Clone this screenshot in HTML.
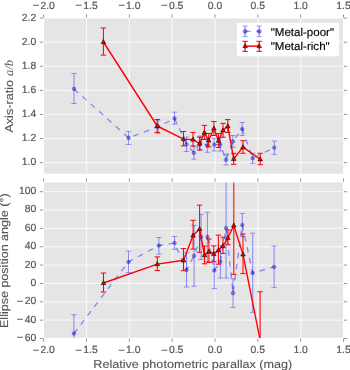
<!DOCTYPE html>
<html><head><meta charset="utf-8"><style>
html,body{margin:0;padding:0;background:#fff;width:350px;height:370px;overflow:hidden;}
svg{display:block;will-change:transform;} text{text-rendering:geometricPrecision;}
</style></head><body>
<svg width="350" height="370" viewBox="0 0 350 370">
<defs>
<clipPath id="ct"><rect x="44" y="18.5" width="299" height="155.2"/></clipPath>
<clipPath id="cb"><rect x="44" y="182.5" width="299" height="155.3"/></clipPath>
</defs>
<rect width="350" height="370" fill="#fff"/>
<rect x="44" y="18.5" width="299" height="155.2" fill="#E5E5E5"/>
<rect x="44" y="182.5" width="299" height="155.3" fill="#E5E5E5"/>
<line x1="86.51" y1="18.5" x2="86.51" y2="173.7" stroke="#fff" stroke-opacity="0.65" stroke-width="1.3"/>
<line x1="129.34" y1="18.5" x2="129.34" y2="173.7" stroke="#fff" stroke-opacity="0.65" stroke-width="1.3"/>
<line x1="172.17" y1="18.5" x2="172.17" y2="173.7" stroke="#fff" stroke-opacity="0.65" stroke-width="1.3"/>
<line x1="215" y1="18.5" x2="215" y2="173.7" stroke="#fff" stroke-opacity="0.65" stroke-width="1.3"/>
<line x1="257.83" y1="18.5" x2="257.83" y2="173.7" stroke="#fff" stroke-opacity="0.65" stroke-width="1.3"/>
<line x1="300.66" y1="18.5" x2="300.66" y2="173.7" stroke="#fff" stroke-opacity="0.65" stroke-width="1.3"/>
<line x1="86.51" y1="182.5" x2="86.51" y2="337.8" stroke="#fff" stroke-opacity="0.65" stroke-width="1.3"/>
<line x1="129.34" y1="182.5" x2="129.34" y2="337.8" stroke="#fff" stroke-opacity="0.65" stroke-width="1.3"/>
<line x1="172.17" y1="182.5" x2="172.17" y2="337.8" stroke="#fff" stroke-opacity="0.65" stroke-width="1.3"/>
<line x1="215" y1="182.5" x2="215" y2="337.8" stroke="#fff" stroke-opacity="0.65" stroke-width="1.3"/>
<line x1="257.83" y1="182.5" x2="257.83" y2="337.8" stroke="#fff" stroke-opacity="0.65" stroke-width="1.3"/>
<line x1="300.66" y1="182.5" x2="300.66" y2="337.8" stroke="#fff" stroke-opacity="0.65" stroke-width="1.3"/>
<line x1="44" y1="162.6" x2="343" y2="162.6" stroke="#fff" stroke-opacity="0.65" stroke-width="1.3"/>
<line x1="44" y1="138.52" x2="343" y2="138.52" stroke="#fff" stroke-opacity="0.65" stroke-width="1.3"/>
<line x1="44" y1="114.44" x2="343" y2="114.44" stroke="#fff" stroke-opacity="0.65" stroke-width="1.3"/>
<line x1="44" y1="90.36" x2="343" y2="90.36" stroke="#fff" stroke-opacity="0.65" stroke-width="1.3"/>
<line x1="44" y1="66.28" x2="343" y2="66.28" stroke="#fff" stroke-opacity="0.65" stroke-width="1.3"/>
<line x1="44" y1="42.2" x2="343" y2="42.2" stroke="#fff" stroke-opacity="0.65" stroke-width="1.3"/>
<line x1="44" y1="320.15" x2="343" y2="320.15" stroke="#fff" stroke-opacity="0.65" stroke-width="1.3"/>
<line x1="44" y1="301.8" x2="343" y2="301.8" stroke="#fff" stroke-opacity="0.65" stroke-width="1.3"/>
<line x1="44" y1="283.45" x2="343" y2="283.45" stroke="#fff" stroke-opacity="0.65" stroke-width="1.3"/>
<line x1="44" y1="265.1" x2="343" y2="265.1" stroke="#fff" stroke-opacity="0.65" stroke-width="1.3"/>
<line x1="44" y1="246.75" x2="343" y2="246.75" stroke="#fff" stroke-opacity="0.65" stroke-width="1.3"/>
<line x1="44" y1="228.41" x2="343" y2="228.41" stroke="#fff" stroke-opacity="0.65" stroke-width="1.3"/>
<line x1="44" y1="210.06" x2="343" y2="210.06" stroke="#fff" stroke-opacity="0.65" stroke-width="1.3"/>
<line x1="44" y1="191.71" x2="343" y2="191.71" stroke="#fff" stroke-opacity="0.65" stroke-width="1.3"/>
<g stroke="#6a6a6a" stroke-width="0.7">
<line x1="43.68" y1="17.7" x2="43.68" y2="14.4"/>
<line x1="43.68" y1="181.7" x2="43.68" y2="178.4"/>
<line x1="43.68" y1="338.6" x2="43.68" y2="341.9"/>
<line x1="86.51" y1="17.7" x2="86.51" y2="14.4"/>
<line x1="86.51" y1="181.7" x2="86.51" y2="178.4"/>
<line x1="86.51" y1="338.6" x2="86.51" y2="341.9"/>
<line x1="129.34" y1="17.7" x2="129.34" y2="14.4"/>
<line x1="129.34" y1="181.7" x2="129.34" y2="178.4"/>
<line x1="129.34" y1="338.6" x2="129.34" y2="341.9"/>
<line x1="172.17" y1="17.7" x2="172.17" y2="14.4"/>
<line x1="172.17" y1="181.7" x2="172.17" y2="178.4"/>
<line x1="172.17" y1="338.6" x2="172.17" y2="341.9"/>
<line x1="215" y1="17.7" x2="215" y2="14.4"/>
<line x1="215" y1="181.7" x2="215" y2="178.4"/>
<line x1="215" y1="338.6" x2="215" y2="341.9"/>
<line x1="257.83" y1="17.7" x2="257.83" y2="14.4"/>
<line x1="257.83" y1="181.7" x2="257.83" y2="178.4"/>
<line x1="257.83" y1="338.6" x2="257.83" y2="341.9"/>
<line x1="300.66" y1="17.7" x2="300.66" y2="14.4"/>
<line x1="300.66" y1="181.7" x2="300.66" y2="178.4"/>
<line x1="300.66" y1="338.6" x2="300.66" y2="341.9"/>
<line x1="343.49" y1="17.7" x2="343.49" y2="14.4"/>
<line x1="343.49" y1="181.7" x2="343.49" y2="178.4"/>
<line x1="343.49" y1="338.6" x2="343.49" y2="341.9"/>
<line x1="43.2" y1="162.6" x2="39.9" y2="162.6"/>
<line x1="343.8" y1="162.6" x2="347.1" y2="162.6"/>
<line x1="43.2" y1="138.52" x2="39.9" y2="138.52"/>
<line x1="343.8" y1="138.52" x2="347.1" y2="138.52"/>
<line x1="43.2" y1="114.44" x2="39.9" y2="114.44"/>
<line x1="343.8" y1="114.44" x2="347.1" y2="114.44"/>
<line x1="43.2" y1="90.36" x2="39.9" y2="90.36"/>
<line x1="343.8" y1="90.36" x2="347.1" y2="90.36"/>
<line x1="43.2" y1="66.28" x2="39.9" y2="66.28"/>
<line x1="343.8" y1="66.28" x2="347.1" y2="66.28"/>
<line x1="43.2" y1="42.2" x2="39.9" y2="42.2"/>
<line x1="343.8" y1="42.2" x2="347.1" y2="42.2"/>
<line x1="43.2" y1="18.12" x2="39.9" y2="18.12"/>
<line x1="343.8" y1="18.12" x2="347.1" y2="18.12"/>
<line x1="43.2" y1="338.49" x2="39.9" y2="338.49"/>
<line x1="343.8" y1="338.49" x2="347.1" y2="338.49"/>
<line x1="43.2" y1="320.15" x2="39.9" y2="320.15"/>
<line x1="343.8" y1="320.15" x2="347.1" y2="320.15"/>
<line x1="43.2" y1="301.8" x2="39.9" y2="301.8"/>
<line x1="343.8" y1="301.8" x2="347.1" y2="301.8"/>
<line x1="43.2" y1="283.45" x2="39.9" y2="283.45"/>
<line x1="343.8" y1="283.45" x2="347.1" y2="283.45"/>
<line x1="43.2" y1="265.1" x2="39.9" y2="265.1"/>
<line x1="343.8" y1="265.1" x2="347.1" y2="265.1"/>
<line x1="43.2" y1="246.75" x2="39.9" y2="246.75"/>
<line x1="343.8" y1="246.75" x2="347.1" y2="246.75"/>
<line x1="43.2" y1="228.41" x2="39.9" y2="228.41"/>
<line x1="343.8" y1="228.41" x2="347.1" y2="228.41"/>
<line x1="43.2" y1="210.06" x2="39.9" y2="210.06"/>
<line x1="343.8" y1="210.06" x2="347.1" y2="210.06"/>
<line x1="43.2" y1="191.71" x2="39.9" y2="191.71"/>
<line x1="343.8" y1="191.71" x2="347.1" y2="191.71"/>
</g>
<g font-family="Liberation Sans, sans-serif" font-size="10.4" fill="#555555" stroke="#555555" stroke-width="0.18">
<text x="43.68" y="8.9" text-anchor="middle"><tspan font-size="11.5" stroke-width="0.15" dy="0.5">−</tspan><tspan dx="1.2" dy="-0.5">2.0</tspan></text>
<text x="43.68" y="353.0" text-anchor="middle"><tspan font-size="11.5" stroke-width="0.15" dy="0.5">−</tspan><tspan dx="1.2" dy="-0.5">2.0</tspan></text>
<text x="86.51" y="8.9" text-anchor="middle"><tspan font-size="11.5" stroke-width="0.15" dy="0.5">−</tspan><tspan dx="1.2" dy="-0.5">1.5</tspan></text>
<text x="86.51" y="353.0" text-anchor="middle"><tspan font-size="11.5" stroke-width="0.15" dy="0.5">−</tspan><tspan dx="1.2" dy="-0.5">1.5</tspan></text>
<text x="129.34" y="8.9" text-anchor="middle"><tspan font-size="11.5" stroke-width="0.15" dy="0.5">−</tspan><tspan dx="1.2" dy="-0.5">1.0</tspan></text>
<text x="129.34" y="353.0" text-anchor="middle"><tspan font-size="11.5" stroke-width="0.15" dy="0.5">−</tspan><tspan dx="1.2" dy="-0.5">1.0</tspan></text>
<text x="172.17" y="8.9" text-anchor="middle"><tspan font-size="11.5" stroke-width="0.15" dy="0.5">−</tspan><tspan dx="1.2" dy="-0.5">0.5</tspan></text>
<text x="172.17" y="353.0" text-anchor="middle"><tspan font-size="11.5" stroke-width="0.15" dy="0.5">−</tspan><tspan dx="1.2" dy="-0.5">0.5</tspan></text>
<text x="215" y="8.9" text-anchor="middle">0.0</text>
<text x="215" y="353.0" text-anchor="middle">0.0</text>
<text x="257.83" y="8.9" text-anchor="middle">0.5</text>
<text x="257.83" y="353.0" text-anchor="middle">0.5</text>
<text x="300.66" y="8.9" text-anchor="middle">1.0</text>
<text x="300.66" y="353.0" text-anchor="middle">1.0</text>
<text x="343.49" y="8.9" text-anchor="middle">1.5</text>
<text x="343.49" y="353.0" text-anchor="middle">1.5</text>
<text x="36.3" y="165.3" text-anchor="end">1.0</text>
<text x="36.3" y="141.22" text-anchor="end">1.2</text>
<text x="36.3" y="117.14" text-anchor="end">1.4</text>
<text x="36.3" y="93.06" text-anchor="end">1.6</text>
<text x="36.3" y="68.98" text-anchor="end">1.8</text>
<text x="36.3" y="44.9" text-anchor="end">2.0</text>
<text x="36.3" y="20.82" text-anchor="end">2.2</text>
<text x="36.3" y="340.89" text-anchor="end"><tspan font-size="11.5" stroke-width="0.15" dy="0.5">−</tspan><tspan dx="1.2" dy="-0.5">60</tspan></text>
<text x="36.3" y="322.55" text-anchor="end"><tspan font-size="11.5" stroke-width="0.15" dy="0.5">−</tspan><tspan dx="1.2" dy="-0.5">40</tspan></text>
<text x="36.3" y="304.2" text-anchor="end"><tspan font-size="11.5" stroke-width="0.15" dy="0.5">−</tspan><tspan dx="1.2" dy="-0.5">20</tspan></text>
<text x="36.3" y="285.85" text-anchor="end">0</text>
<text x="36.3" y="267.5" text-anchor="end">20</text>
<text x="36.3" y="249.15" text-anchor="end">40</text>
<text x="36.3" y="230.81" text-anchor="end">60</text>
<text x="36.3" y="212.46" text-anchor="end">80</text>
<text x="36.3" y="194.11" text-anchor="end">100</text>
</g>
<g clip-path="url(#ct)">
<polyline points="74.05,88.9 128.6,137.9 158.1,126.7 174.5,118.4 186.5,144.3 193.9,152.8 200.3,143 207.3,145.4 214.2,144.6 220.2,144.4 226,159.8 232.9,141.4 242.2,129 252.7,158.2 274.3,147.6" fill="none" stroke="rgba(0,0,255,0.42)" stroke-width="1.3" stroke-dasharray="5.6 5.6"/>
<line x1="74.05" y1="73.5" x2="74.05" y2="103.5" stroke="rgba(0,0,255,0.42)" stroke-width="1.0"/>
<line x1="71.35" y1="73.5" x2="76.75" y2="73.5" stroke="rgba(0,0,255,0.42)" stroke-width="0.85"/>
<line x1="71.35" y1="103.5" x2="76.75" y2="103.5" stroke="rgba(0,0,255,0.42)" stroke-width="0.85"/>
<line x1="128.6" y1="131.6" x2="128.6" y2="144.5" stroke="rgba(0,0,255,0.42)" stroke-width="1.0"/>
<line x1="125.9" y1="131.6" x2="131.3" y2="131.6" stroke="rgba(0,0,255,0.42)" stroke-width="0.85"/>
<line x1="125.9" y1="144.5" x2="131.3" y2="144.5" stroke="rgba(0,0,255,0.42)" stroke-width="0.85"/>
<line x1="158.1" y1="120.1" x2="158.1" y2="133.3" stroke="rgba(0,0,255,0.42)" stroke-width="1.0"/>
<line x1="155.4" y1="120.1" x2="160.8" y2="120.1" stroke="rgba(0,0,255,0.42)" stroke-width="0.85"/>
<line x1="155.4" y1="133.3" x2="160.8" y2="133.3" stroke="rgba(0,0,255,0.42)" stroke-width="0.85"/>
<line x1="174.5" y1="112.1" x2="174.5" y2="124.2" stroke="rgba(0,0,255,0.42)" stroke-width="1.0"/>
<line x1="171.8" y1="112.1" x2="177.2" y2="112.1" stroke="rgba(0,0,255,0.42)" stroke-width="0.85"/>
<line x1="171.8" y1="124.2" x2="177.2" y2="124.2" stroke="rgba(0,0,255,0.42)" stroke-width="0.85"/>
<line x1="186.5" y1="137" x2="186.5" y2="151.5" stroke="rgba(0,0,255,0.42)" stroke-width="1.0"/>
<line x1="183.8" y1="137" x2="189.2" y2="137" stroke="rgba(0,0,255,0.42)" stroke-width="0.85"/>
<line x1="183.8" y1="151.5" x2="189.2" y2="151.5" stroke="rgba(0,0,255,0.42)" stroke-width="0.85"/>
<line x1="193.9" y1="146.5" x2="193.9" y2="159.2" stroke="rgba(0,0,255,0.42)" stroke-width="1.0"/>
<line x1="191.2" y1="146.5" x2="196.6" y2="146.5" stroke="rgba(0,0,255,0.42)" stroke-width="0.85"/>
<line x1="191.2" y1="159.2" x2="196.6" y2="159.2" stroke="rgba(0,0,255,0.42)" stroke-width="0.85"/>
<line x1="200.3" y1="136" x2="200.3" y2="150" stroke="rgba(0,0,255,0.42)" stroke-width="1.0"/>
<line x1="197.6" y1="136" x2="203" y2="136" stroke="rgba(0,0,255,0.42)" stroke-width="0.85"/>
<line x1="197.6" y1="150" x2="203" y2="150" stroke="rgba(0,0,255,0.42)" stroke-width="0.85"/>
<line x1="207.3" y1="138.5" x2="207.3" y2="152.3" stroke="rgba(0,0,255,0.42)" stroke-width="1.0"/>
<line x1="204.6" y1="138.5" x2="210" y2="138.5" stroke="rgba(0,0,255,0.42)" stroke-width="0.85"/>
<line x1="204.6" y1="152.3" x2="210" y2="152.3" stroke="rgba(0,0,255,0.42)" stroke-width="0.85"/>
<line x1="214.2" y1="138.4" x2="214.2" y2="151" stroke="rgba(0,0,255,0.42)" stroke-width="1.0"/>
<line x1="211.5" y1="138.4" x2="216.9" y2="138.4" stroke="rgba(0,0,255,0.42)" stroke-width="0.85"/>
<line x1="211.5" y1="151" x2="216.9" y2="151" stroke="rgba(0,0,255,0.42)" stroke-width="0.85"/>
<line x1="220.2" y1="138" x2="220.2" y2="151" stroke="rgba(0,0,255,0.42)" stroke-width="1.0"/>
<line x1="217.5" y1="138" x2="222.9" y2="138" stroke="rgba(0,0,255,0.42)" stroke-width="0.85"/>
<line x1="217.5" y1="151" x2="222.9" y2="151" stroke="rgba(0,0,255,0.42)" stroke-width="0.85"/>
<line x1="226" y1="154.2" x2="226" y2="165" stroke="rgba(0,0,255,0.42)" stroke-width="1.0"/>
<line x1="223.3" y1="154.2" x2="228.7" y2="154.2" stroke="rgba(0,0,255,0.42)" stroke-width="0.85"/>
<line x1="223.3" y1="165" x2="228.7" y2="165" stroke="rgba(0,0,255,0.42)" stroke-width="0.85"/>
<line x1="232.9" y1="135.5" x2="232.9" y2="147.3" stroke="rgba(0,0,255,0.42)" stroke-width="1.0"/>
<line x1="230.2" y1="135.5" x2="235.6" y2="135.5" stroke="rgba(0,0,255,0.42)" stroke-width="0.85"/>
<line x1="230.2" y1="147.3" x2="235.6" y2="147.3" stroke="rgba(0,0,255,0.42)" stroke-width="0.85"/>
<line x1="242.2" y1="122.5" x2="242.2" y2="135.5" stroke="rgba(0,0,255,0.42)" stroke-width="1.0"/>
<line x1="239.5" y1="122.5" x2="244.9" y2="122.5" stroke="rgba(0,0,255,0.42)" stroke-width="0.85"/>
<line x1="239.5" y1="135.5" x2="244.9" y2="135.5" stroke="rgba(0,0,255,0.42)" stroke-width="0.85"/>
<line x1="252.7" y1="153.3" x2="252.7" y2="163.3" stroke="rgba(0,0,255,0.42)" stroke-width="1.0"/>
<line x1="250" y1="153.3" x2="255.4" y2="153.3" stroke="rgba(0,0,255,0.42)" stroke-width="0.85"/>
<line x1="250" y1="163.3" x2="255.4" y2="163.3" stroke="rgba(0,0,255,0.42)" stroke-width="0.85"/>
<line x1="274.3" y1="141" x2="274.3" y2="154.3" stroke="rgba(0,0,255,0.42)" stroke-width="1.0"/>
<line x1="271.6" y1="141" x2="277" y2="141" stroke="rgba(0,0,255,0.42)" stroke-width="0.85"/>
<line x1="271.6" y1="154.3" x2="277" y2="154.3" stroke="rgba(0,0,255,0.42)" stroke-width="0.85"/>
<circle cx="74.05" cy="88.9" r="1.85" fill="rgba(0,0,255,0.42)" stroke="rgba(0,0,40,0.45)" stroke-width="0.55"/>
<circle cx="128.6" cy="137.9" r="1.85" fill="rgba(0,0,255,0.42)" stroke="rgba(0,0,40,0.45)" stroke-width="0.55"/>
<circle cx="158.1" cy="126.7" r="1.85" fill="rgba(0,0,255,0.42)" stroke="rgba(0,0,40,0.45)" stroke-width="0.55"/>
<circle cx="174.5" cy="118.4" r="1.85" fill="rgba(0,0,255,0.42)" stroke="rgba(0,0,40,0.45)" stroke-width="0.55"/>
<circle cx="186.5" cy="144.3" r="1.85" fill="rgba(0,0,255,0.42)" stroke="rgba(0,0,40,0.45)" stroke-width="0.55"/>
<circle cx="193.9" cy="152.8" r="1.85" fill="rgba(0,0,255,0.42)" stroke="rgba(0,0,40,0.45)" stroke-width="0.55"/>
<circle cx="200.3" cy="143" r="1.85" fill="rgba(0,0,255,0.42)" stroke="rgba(0,0,40,0.45)" stroke-width="0.55"/>
<circle cx="207.3" cy="145.4" r="1.85" fill="rgba(0,0,255,0.42)" stroke="rgba(0,0,40,0.45)" stroke-width="0.55"/>
<circle cx="214.2" cy="144.6" r="1.85" fill="rgba(0,0,255,0.42)" stroke="rgba(0,0,40,0.45)" stroke-width="0.55"/>
<circle cx="220.2" cy="144.4" r="1.85" fill="rgba(0,0,255,0.42)" stroke="rgba(0,0,40,0.45)" stroke-width="0.55"/>
<circle cx="226" cy="159.8" r="1.85" fill="rgba(0,0,255,0.42)" stroke="rgba(0,0,40,0.45)" stroke-width="0.55"/>
<circle cx="232.9" cy="141.4" r="1.85" fill="rgba(0,0,255,0.42)" stroke="rgba(0,0,40,0.45)" stroke-width="0.55"/>
<circle cx="242.2" cy="129" r="1.85" fill="rgba(0,0,255,0.42)" stroke="rgba(0,0,40,0.45)" stroke-width="0.55"/>
<circle cx="252.7" cy="158.2" r="1.85" fill="rgba(0,0,255,0.42)" stroke="rgba(0,0,40,0.45)" stroke-width="0.55"/>
<circle cx="274.3" cy="147.6" r="1.85" fill="rgba(0,0,255,0.42)" stroke="rgba(0,0,40,0.45)" stroke-width="0.55"/>
</g>
<g clip-path="url(#ct)">
<polyline points="103.4,42 157.2,126 183.5,139.1 193,139.5 199.6,143.7 204.4,132.6 208.7,140.5 213.9,128.5 218.5,140.7 223,130.3 227.8,126.2 233.7,159 243,147.1 260.2,159.3" fill="none" stroke="#FF0000" stroke-width="1.4" stroke-linejoin="round"/>
<line x1="103.4" y1="28" x2="103.4" y2="55.1" stroke="#FF0000" stroke-width="1.05"/>
<line x1="100.7" y1="28" x2="106.1" y2="28" stroke="#FF0000" stroke-width="1.0"/>
<line x1="100.7" y1="55.1" x2="106.1" y2="55.1" stroke="#FF0000" stroke-width="1.0"/>
<line x1="157.2" y1="119.5" x2="157.2" y2="132.4" stroke="#FF0000" stroke-width="1.05"/>
<line x1="154.5" y1="119.5" x2="159.9" y2="119.5" stroke="#FF0000" stroke-width="1.0"/>
<line x1="154.5" y1="132.4" x2="159.9" y2="132.4" stroke="#FF0000" stroke-width="1.0"/>
<line x1="183.5" y1="131.5" x2="183.5" y2="145.9" stroke="#FF0000" stroke-width="1.05"/>
<line x1="180.8" y1="131.5" x2="186.2" y2="131.5" stroke="#FF0000" stroke-width="1.0"/>
<line x1="180.8" y1="145.9" x2="186.2" y2="145.9" stroke="#FF0000" stroke-width="1.0"/>
<line x1="193" y1="132.4" x2="193" y2="146" stroke="#FF0000" stroke-width="1.05"/>
<line x1="190.3" y1="132.4" x2="195.7" y2="132.4" stroke="#FF0000" stroke-width="1.0"/>
<line x1="190.3" y1="146" x2="195.7" y2="146" stroke="#FF0000" stroke-width="1.0"/>
<line x1="199.6" y1="137.1" x2="199.6" y2="150" stroke="#FF0000" stroke-width="1.05"/>
<line x1="196.9" y1="137.1" x2="202.3" y2="137.1" stroke="#FF0000" stroke-width="1.0"/>
<line x1="196.9" y1="150" x2="202.3" y2="150" stroke="#FF0000" stroke-width="1.0"/>
<line x1="204.4" y1="125.4" x2="204.4" y2="139.5" stroke="#FF0000" stroke-width="1.05"/>
<line x1="201.7" y1="125.4" x2="207.1" y2="125.4" stroke="#FF0000" stroke-width="1.0"/>
<line x1="201.7" y1="139.5" x2="207.1" y2="139.5" stroke="#FF0000" stroke-width="1.0"/>
<line x1="208.7" y1="133.5" x2="208.7" y2="147" stroke="#FF0000" stroke-width="1.05"/>
<line x1="206" y1="133.5" x2="211.4" y2="133.5" stroke="#FF0000" stroke-width="1.0"/>
<line x1="206" y1="147" x2="211.4" y2="147" stroke="#FF0000" stroke-width="1.0"/>
<line x1="213.9" y1="121.5" x2="213.9" y2="135.5" stroke="#FF0000" stroke-width="1.05"/>
<line x1="211.2" y1="121.5" x2="216.6" y2="121.5" stroke="#FF0000" stroke-width="1.0"/>
<line x1="211.2" y1="135.5" x2="216.6" y2="135.5" stroke="#FF0000" stroke-width="1.0"/>
<line x1="218.5" y1="133.5" x2="218.5" y2="147.5" stroke="#FF0000" stroke-width="1.05"/>
<line x1="215.8" y1="133.5" x2="221.2" y2="133.5" stroke="#FF0000" stroke-width="1.0"/>
<line x1="215.8" y1="147.5" x2="221.2" y2="147.5" stroke="#FF0000" stroke-width="1.0"/>
<line x1="223" y1="123.3" x2="223" y2="137.2" stroke="#FF0000" stroke-width="1.05"/>
<line x1="220.3" y1="123.3" x2="225.7" y2="123.3" stroke="#FF0000" stroke-width="1.0"/>
<line x1="220.3" y1="137.2" x2="225.7" y2="137.2" stroke="#FF0000" stroke-width="1.0"/>
<line x1="227.8" y1="119.6" x2="227.8" y2="132.5" stroke="#FF0000" stroke-width="1.05"/>
<line x1="225.1" y1="119.6" x2="230.5" y2="119.6" stroke="#FF0000" stroke-width="1.0"/>
<line x1="225.1" y1="132.5" x2="230.5" y2="132.5" stroke="#FF0000" stroke-width="1.0"/>
<line x1="233.7" y1="153.3" x2="233.7" y2="164.3" stroke="#FF0000" stroke-width="1.05"/>
<line x1="231" y1="153.3" x2="236.4" y2="153.3" stroke="#FF0000" stroke-width="1.0"/>
<line x1="231" y1="164.3" x2="236.4" y2="164.3" stroke="#FF0000" stroke-width="1.0"/>
<line x1="243" y1="140.7" x2="243" y2="153.3" stroke="#FF0000" stroke-width="1.05"/>
<line x1="240.3" y1="140.7" x2="245.7" y2="140.7" stroke="#FF0000" stroke-width="1.0"/>
<line x1="240.3" y1="153.3" x2="245.7" y2="153.3" stroke="#FF0000" stroke-width="1.0"/>
<line x1="260.2" y1="153.3" x2="260.2" y2="164.7" stroke="#FF0000" stroke-width="1.05"/>
<line x1="257.5" y1="153.3" x2="262.9" y2="153.3" stroke="#FF0000" stroke-width="1.0"/>
<line x1="257.5" y1="164.7" x2="262.9" y2="164.7" stroke="#FF0000" stroke-width="1.0"/>
<path d="M103.4,39.6 L105.7,43.6 L101.1,43.6 Z" fill="#F00000" stroke="#000" stroke-width="0.55"/>
<path d="M157.2,123.6 L159.5,127.6 L154.9,127.6 Z" fill="#F00000" stroke="#000" stroke-width="0.55"/>
<path d="M183.5,136.7 L185.8,140.7 L181.2,140.7 Z" fill="#F00000" stroke="#000" stroke-width="0.55"/>
<path d="M193,137.1 L195.3,141.1 L190.7,141.1 Z" fill="#F00000" stroke="#000" stroke-width="0.55"/>
<path d="M199.6,141.3 L201.9,145.3 L197.3,145.3 Z" fill="#F00000" stroke="#000" stroke-width="0.55"/>
<path d="M204.4,130.2 L206.7,134.2 L202.1,134.2 Z" fill="#F00000" stroke="#000" stroke-width="0.55"/>
<path d="M208.7,138.1 L211,142.1 L206.4,142.1 Z" fill="#F00000" stroke="#000" stroke-width="0.55"/>
<path d="M213.9,126.1 L216.2,130.1 L211.6,130.1 Z" fill="#F00000" stroke="#000" stroke-width="0.55"/>
<path d="M218.5,138.3 L220.8,142.3 L216.2,142.3 Z" fill="#F00000" stroke="#000" stroke-width="0.55"/>
<path d="M223,127.9 L225.3,131.9 L220.7,131.9 Z" fill="#F00000" stroke="#000" stroke-width="0.55"/>
<path d="M227.8,123.8 L230.1,127.8 L225.5,127.8 Z" fill="#F00000" stroke="#000" stroke-width="0.55"/>
<path d="M233.7,156.6 L236,160.6 L231.4,160.6 Z" fill="#F00000" stroke="#000" stroke-width="0.55"/>
<path d="M243,144.7 L245.3,148.7 L240.7,148.7 Z" fill="#F00000" stroke="#000" stroke-width="0.55"/>
<path d="M260.2,156.9 L262.5,160.9 L257.9,160.9 Z" fill="#F00000" stroke="#000" stroke-width="0.55"/>
</g>
<g clip-path="url(#cb)">
<polyline points="73.9,333.5 128.5,261.9 158.9,245.5 174.6,243 186.5,269.9 194.1,255.8 201.1,236.9 207.4,236.9 214.3,270.4 220.4,261.8 226.1,228 233,293.1 242.3,225 252.7,272.9 274.1,266.9" fill="none" stroke="rgba(0,0,255,0.42)" stroke-width="1.3" stroke-dasharray="5.6 5.6"/>
<line x1="73.9" y1="314.7" x2="73.9" y2="352" stroke="rgba(0,0,255,0.42)" stroke-width="1.0"/>
<line x1="71.2" y1="314.7" x2="76.6" y2="314.7" stroke="rgba(0,0,255,0.42)" stroke-width="0.85"/>
<line x1="71.2" y1="352" x2="76.6" y2="352" stroke="rgba(0,0,255,0.42)" stroke-width="0.85"/>
<line x1="128.5" y1="251" x2="128.5" y2="272.5" stroke="rgba(0,0,255,0.42)" stroke-width="1.0"/>
<line x1="125.8" y1="251" x2="131.2" y2="251" stroke="rgba(0,0,255,0.42)" stroke-width="0.85"/>
<line x1="125.8" y1="272.5" x2="131.2" y2="272.5" stroke="rgba(0,0,255,0.42)" stroke-width="0.85"/>
<line x1="158.9" y1="237.5" x2="158.9" y2="254.2" stroke="rgba(0,0,255,0.42)" stroke-width="1.0"/>
<line x1="156.2" y1="237.5" x2="161.6" y2="237.5" stroke="rgba(0,0,255,0.42)" stroke-width="0.85"/>
<line x1="156.2" y1="254.2" x2="161.6" y2="254.2" stroke="rgba(0,0,255,0.42)" stroke-width="0.85"/>
<line x1="174.6" y1="236.5" x2="174.6" y2="249.3" stroke="rgba(0,0,255,0.42)" stroke-width="1.0"/>
<line x1="171.9" y1="236.5" x2="177.3" y2="236.5" stroke="rgba(0,0,255,0.42)" stroke-width="0.85"/>
<line x1="171.9" y1="249.3" x2="177.3" y2="249.3" stroke="rgba(0,0,255,0.42)" stroke-width="0.85"/>
<line x1="186.5" y1="252.7" x2="186.5" y2="287" stroke="rgba(0,0,255,0.42)" stroke-width="1.0"/>
<line x1="183.8" y1="252.7" x2="189.2" y2="252.7" stroke="rgba(0,0,255,0.42)" stroke-width="0.85"/>
<line x1="183.8" y1="287" x2="189.2" y2="287" stroke="rgba(0,0,255,0.42)" stroke-width="0.85"/>
<line x1="194.1" y1="225.3" x2="194.1" y2="286.3" stroke="rgba(0,0,255,0.42)" stroke-width="1.0"/>
<line x1="191.4" y1="225.3" x2="196.8" y2="225.3" stroke="rgba(0,0,255,0.42)" stroke-width="0.85"/>
<line x1="191.4" y1="286.3" x2="196.8" y2="286.3" stroke="rgba(0,0,255,0.42)" stroke-width="0.85"/>
<line x1="201.1" y1="214.3" x2="201.1" y2="259.5" stroke="rgba(0,0,255,0.42)" stroke-width="1.0"/>
<line x1="198.4" y1="214.3" x2="203.8" y2="214.3" stroke="rgba(0,0,255,0.42)" stroke-width="0.85"/>
<line x1="198.4" y1="259.5" x2="203.8" y2="259.5" stroke="rgba(0,0,255,0.42)" stroke-width="0.85"/>
<line x1="207.4" y1="212.3" x2="207.4" y2="261.5" stroke="rgba(0,0,255,0.42)" stroke-width="1.0"/>
<line x1="204.7" y1="212.3" x2="210.1" y2="212.3" stroke="rgba(0,0,255,0.42)" stroke-width="0.85"/>
<line x1="204.7" y1="261.5" x2="210.1" y2="261.5" stroke="rgba(0,0,255,0.42)" stroke-width="0.85"/>
<line x1="214.3" y1="252.3" x2="214.3" y2="288.6" stroke="rgba(0,0,255,0.42)" stroke-width="1.0"/>
<line x1="211.6" y1="252.3" x2="217" y2="252.3" stroke="rgba(0,0,255,0.42)" stroke-width="0.85"/>
<line x1="211.6" y1="288.6" x2="217" y2="288.6" stroke="rgba(0,0,255,0.42)" stroke-width="0.85"/>
<line x1="220.4" y1="245.6" x2="220.4" y2="278.1" stroke="rgba(0,0,255,0.42)" stroke-width="1.0"/>
<line x1="217.7" y1="245.6" x2="223.1" y2="245.6" stroke="rgba(0,0,255,0.42)" stroke-width="0.85"/>
<line x1="217.7" y1="278.1" x2="223.1" y2="278.1" stroke="rgba(0,0,255,0.42)" stroke-width="0.85"/>
<line x1="226.1" y1="178" x2="226.1" y2="278.1" stroke="rgba(0,0,255,0.42)" stroke-width="1.0"/>
<line x1="223.4" y1="178" x2="228.8" y2="178" stroke="rgba(0,0,255,0.42)" stroke-width="0.85"/>
<line x1="223.4" y1="278.1" x2="228.8" y2="278.1" stroke="rgba(0,0,255,0.42)" stroke-width="0.85"/>
<line x1="233" y1="278.7" x2="233" y2="307.4" stroke="rgba(0,0,255,0.42)" stroke-width="1.0"/>
<line x1="230.3" y1="278.7" x2="235.7" y2="278.7" stroke="rgba(0,0,255,0.42)" stroke-width="0.85"/>
<line x1="230.3" y1="307.4" x2="235.7" y2="307.4" stroke="rgba(0,0,255,0.42)" stroke-width="0.85"/>
<line x1="242.3" y1="213.4" x2="242.3" y2="236.6" stroke="rgba(0,0,255,0.42)" stroke-width="1.0"/>
<line x1="239.6" y1="213.4" x2="245" y2="213.4" stroke="rgba(0,0,255,0.42)" stroke-width="0.85"/>
<line x1="239.6" y1="236.6" x2="245" y2="236.6" stroke="rgba(0,0,255,0.42)" stroke-width="0.85"/>
<line x1="252.7" y1="233.2" x2="252.7" y2="312.4" stroke="rgba(0,0,255,0.42)" stroke-width="1.0"/>
<line x1="250" y1="233.2" x2="255.4" y2="233.2" stroke="rgba(0,0,255,0.42)" stroke-width="0.85"/>
<line x1="250" y1="312.4" x2="255.4" y2="312.4" stroke="rgba(0,0,255,0.42)" stroke-width="0.85"/>
<line x1="274.1" y1="246" x2="274.1" y2="287.6" stroke="rgba(0,0,255,0.42)" stroke-width="1.0"/>
<line x1="271.4" y1="246" x2="276.8" y2="246" stroke="rgba(0,0,255,0.42)" stroke-width="0.85"/>
<line x1="271.4" y1="287.6" x2="276.8" y2="287.6" stroke="rgba(0,0,255,0.42)" stroke-width="0.85"/>
<circle cx="73.9" cy="333.5" r="1.85" fill="rgba(0,0,255,0.42)" stroke="rgba(0,0,40,0.45)" stroke-width="0.55"/>
<circle cx="128.5" cy="261.9" r="1.85" fill="rgba(0,0,255,0.42)" stroke="rgba(0,0,40,0.45)" stroke-width="0.55"/>
<circle cx="158.9" cy="245.5" r="1.85" fill="rgba(0,0,255,0.42)" stroke="rgba(0,0,40,0.45)" stroke-width="0.55"/>
<circle cx="174.6" cy="243" r="1.85" fill="rgba(0,0,255,0.42)" stroke="rgba(0,0,40,0.45)" stroke-width="0.55"/>
<circle cx="186.5" cy="269.9" r="1.85" fill="rgba(0,0,255,0.42)" stroke="rgba(0,0,40,0.45)" stroke-width="0.55"/>
<circle cx="194.1" cy="255.8" r="1.85" fill="rgba(0,0,255,0.42)" stroke="rgba(0,0,40,0.45)" stroke-width="0.55"/>
<circle cx="201.1" cy="236.9" r="1.85" fill="rgba(0,0,255,0.42)" stroke="rgba(0,0,40,0.45)" stroke-width="0.55"/>
<circle cx="207.4" cy="236.9" r="1.85" fill="rgba(0,0,255,0.42)" stroke="rgba(0,0,40,0.45)" stroke-width="0.55"/>
<circle cx="214.3" cy="270.4" r="1.85" fill="rgba(0,0,255,0.42)" stroke="rgba(0,0,40,0.45)" stroke-width="0.55"/>
<circle cx="220.4" cy="261.8" r="1.85" fill="rgba(0,0,255,0.42)" stroke="rgba(0,0,40,0.45)" stroke-width="0.55"/>
<circle cx="226.1" cy="228" r="1.85" fill="rgba(0,0,255,0.42)" stroke="rgba(0,0,40,0.45)" stroke-width="0.55"/>
<circle cx="233" cy="293.1" r="1.85" fill="rgba(0,0,255,0.42)" stroke="rgba(0,0,40,0.45)" stroke-width="0.55"/>
<circle cx="242.3" cy="225" r="1.85" fill="rgba(0,0,255,0.42)" stroke="rgba(0,0,40,0.45)" stroke-width="0.55"/>
<circle cx="252.7" cy="272.9" r="1.85" fill="rgba(0,0,255,0.42)" stroke="rgba(0,0,40,0.45)" stroke-width="0.55"/>
<circle cx="274.1" cy="266.9" r="1.85" fill="rgba(0,0,255,0.42)" stroke="rgba(0,0,40,0.45)" stroke-width="0.55"/>
</g>
<g clip-path="url(#cb)">
<polyline points="103.5,283 157.3,264.1 183.5,260.3 193.1,235.4 199.6,229 204.5,255.2 208.9,251.6 213.8,254 218.4,250.1 223,246 227.9,237.8 233.8,225.5 243,254.4 260.1,340" fill="none" stroke="#FF0000" stroke-width="1.4" stroke-linejoin="round"/>
<line x1="103.5" y1="273" x2="103.5" y2="292" stroke="#FF0000" stroke-width="1.05"/>
<line x1="100.8" y1="273" x2="106.2" y2="273" stroke="#FF0000" stroke-width="1.0"/>
<line x1="100.8" y1="292" x2="106.2" y2="292" stroke="#FF0000" stroke-width="1.0"/>
<line x1="157.3" y1="256.9" x2="157.3" y2="270.6" stroke="#FF0000" stroke-width="1.05"/>
<line x1="154.6" y1="256.9" x2="160" y2="256.9" stroke="#FF0000" stroke-width="1.0"/>
<line x1="154.6" y1="270.6" x2="160" y2="270.6" stroke="#FF0000" stroke-width="1.0"/>
<line x1="183.5" y1="248.6" x2="183.5" y2="270.7" stroke="#FF0000" stroke-width="1.05"/>
<line x1="180.8" y1="248.6" x2="186.2" y2="248.6" stroke="#FF0000" stroke-width="1.0"/>
<line x1="180.8" y1="270.7" x2="186.2" y2="270.7" stroke="#FF0000" stroke-width="1.0"/>
<line x1="193.1" y1="220.3" x2="193.1" y2="249.1" stroke="#FF0000" stroke-width="1.05"/>
<line x1="190.4" y1="220.3" x2="195.8" y2="220.3" stroke="#FF0000" stroke-width="1.0"/>
<line x1="190.4" y1="249.1" x2="195.8" y2="249.1" stroke="#FF0000" stroke-width="1.0"/>
<line x1="199.6" y1="205.1" x2="199.6" y2="252.3" stroke="#FF0000" stroke-width="1.05"/>
<line x1="196.9" y1="205.1" x2="202.3" y2="205.1" stroke="#FF0000" stroke-width="1.0"/>
<line x1="196.9" y1="252.3" x2="202.3" y2="252.3" stroke="#FF0000" stroke-width="1.0"/>
<line x1="204.5" y1="246.1" x2="204.5" y2="263.8" stroke="#FF0000" stroke-width="1.05"/>
<line x1="201.8" y1="246.1" x2="207.2" y2="246.1" stroke="#FF0000" stroke-width="1.0"/>
<line x1="201.8" y1="263.8" x2="207.2" y2="263.8" stroke="#FF0000" stroke-width="1.0"/>
<line x1="208.9" y1="239" x2="208.9" y2="262.5" stroke="#FF0000" stroke-width="1.05"/>
<line x1="206.2" y1="239" x2="211.6" y2="239" stroke="#FF0000" stroke-width="1.0"/>
<line x1="206.2" y1="262.5" x2="211.6" y2="262.5" stroke="#FF0000" stroke-width="1.0"/>
<line x1="213.8" y1="245.9" x2="213.8" y2="261.7" stroke="#FF0000" stroke-width="1.05"/>
<line x1="211.1" y1="245.9" x2="216.5" y2="245.9" stroke="#FF0000" stroke-width="1.0"/>
<line x1="211.1" y1="261.7" x2="216.5" y2="261.7" stroke="#FF0000" stroke-width="1.0"/>
<line x1="218.4" y1="235.1" x2="218.4" y2="264.2" stroke="#FF0000" stroke-width="1.05"/>
<line x1="215.7" y1="235.1" x2="221.1" y2="235.1" stroke="#FF0000" stroke-width="1.0"/>
<line x1="215.7" y1="264.2" x2="221.1" y2="264.2" stroke="#FF0000" stroke-width="1.0"/>
<line x1="223" y1="237.2" x2="223" y2="253.4" stroke="#FF0000" stroke-width="1.05"/>
<line x1="220.3" y1="237.2" x2="225.7" y2="237.2" stroke="#FF0000" stroke-width="1.0"/>
<line x1="220.3" y1="253.4" x2="225.7" y2="253.4" stroke="#FF0000" stroke-width="1.0"/>
<line x1="227.9" y1="229.9" x2="227.9" y2="244.8" stroke="#FF0000" stroke-width="1.05"/>
<line x1="225.2" y1="229.9" x2="230.6" y2="229.9" stroke="#FF0000" stroke-width="1.0"/>
<line x1="225.2" y1="244.8" x2="230.6" y2="244.8" stroke="#FF0000" stroke-width="1.0"/>
<line x1="233.8" y1="176" x2="233.8" y2="274.3" stroke="#FF0000" stroke-width="1.05"/>
<line x1="231.1" y1="176" x2="236.5" y2="176" stroke="#FF0000" stroke-width="1.0"/>
<line x1="231.1" y1="274.3" x2="236.5" y2="274.3" stroke="#FF0000" stroke-width="1.0"/>
<line x1="243" y1="234" x2="243" y2="273.6" stroke="#FF0000" stroke-width="1.05"/>
<line x1="240.3" y1="234" x2="245.7" y2="234" stroke="#FF0000" stroke-width="1.0"/>
<line x1="240.3" y1="273.6" x2="245.7" y2="273.6" stroke="#FF0000" stroke-width="1.0"/>
<line x1="260.1" y1="291.8" x2="260.1" y2="388" stroke="#FF0000" stroke-width="1.05"/>
<line x1="257.4" y1="291.8" x2="262.8" y2="291.8" stroke="#FF0000" stroke-width="1.0"/>
<line x1="257.4" y1="388" x2="262.8" y2="388" stroke="#FF0000" stroke-width="1.0"/>
<path d="M103.5,280.6 L105.8,284.6 L101.2,284.6 Z" fill="#F00000" stroke="#000" stroke-width="0.55"/>
<path d="M157.3,261.7 L159.6,265.7 L155,265.7 Z" fill="#F00000" stroke="#000" stroke-width="0.55"/>
<path d="M183.5,257.9 L185.8,261.9 L181.2,261.9 Z" fill="#F00000" stroke="#000" stroke-width="0.55"/>
<path d="M193.1,233 L195.4,237 L190.8,237 Z" fill="#F00000" stroke="#000" stroke-width="0.55"/>
<path d="M199.6,226.6 L201.9,230.6 L197.3,230.6 Z" fill="#F00000" stroke="#000" stroke-width="0.55"/>
<path d="M204.5,252.8 L206.8,256.8 L202.2,256.8 Z" fill="#F00000" stroke="#000" stroke-width="0.55"/>
<path d="M208.9,249.2 L211.2,253.2 L206.6,253.2 Z" fill="#F00000" stroke="#000" stroke-width="0.55"/>
<path d="M213.8,251.6 L216.1,255.6 L211.5,255.6 Z" fill="#F00000" stroke="#000" stroke-width="0.55"/>
<path d="M218.4,247.7 L220.7,251.7 L216.1,251.7 Z" fill="#F00000" stroke="#000" stroke-width="0.55"/>
<path d="M223,243.6 L225.3,247.6 L220.7,247.6 Z" fill="#F00000" stroke="#000" stroke-width="0.55"/>
<path d="M227.9,235.4 L230.2,239.4 L225.6,239.4 Z" fill="#F00000" stroke="#000" stroke-width="0.55"/>
<path d="M233.8,223.1 L236.1,227.1 L231.5,227.1 Z" fill="#F00000" stroke="#000" stroke-width="0.55"/>
<path d="M243,252 L245.3,256 L240.7,256 Z" fill="#F00000" stroke="#000" stroke-width="0.55"/>
<path d="M260.1,337.6 L262.4,341.6 L257.8,341.6 Z" fill="#F00000" stroke="#000" stroke-width="0.55"/>
</g>
<rect x="237" y="23" width="101.9" height="33.1" fill="#fff" stroke="rgba(255,255,255,0.35)" stroke-width="1.2"/>
<line x1="245.1" y1="31.4" x2="259.2" y2="31.4" stroke="rgba(0,0,255,0.42)" stroke-width="1.3" stroke-dasharray="5.6 5.6"/>
<line x1="245.1" y1="26.0" x2="245.1" y2="36.7" stroke="rgba(0,0,255,0.42)" stroke-width="1.3"/>
<line x1="242.4" y1="26.0" x2="247.8" y2="26.0" stroke="rgba(0,0,255,0.42)" stroke-width="0.85"/>
<line x1="242.4" y1="36.7" x2="247.8" y2="36.7" stroke="rgba(0,0,255,0.42)" stroke-width="0.85"/>
<circle cx="245.1" cy="31.4" r="2.0" fill="rgba(0,0,255,0.42)" stroke="rgba(0,0,40,0.5)" stroke-width="0.6"/>
<line x1="259.2" y1="26.0" x2="259.2" y2="36.7" stroke="rgba(0,0,255,0.42)" stroke-width="1.3"/>
<line x1="256.5" y1="26.0" x2="261.9" y2="26.0" stroke="rgba(0,0,255,0.42)" stroke-width="0.85"/>
<line x1="256.5" y1="36.7" x2="261.9" y2="36.7" stroke="rgba(0,0,255,0.42)" stroke-width="0.85"/>
<circle cx="259.2" cy="31.4" r="2.0" fill="rgba(0,0,255,0.42)" stroke="rgba(0,0,40,0.5)" stroke-width="0.6"/>
<line x1="245.1" y1="46.3" x2="259.2" y2="46.1" stroke="#FF0000" stroke-width="1.5"/>
<line x1="245.1" y1="41.3" x2="245.1" y2="51.4" stroke="#FF0000" stroke-width="1.2"/>
<line x1="242.4" y1="41.3" x2="247.8" y2="41.3" stroke="#FF0000" stroke-width="1"/>
<line x1="242.4" y1="51.4" x2="247.8" y2="51.4" stroke="#FF0000" stroke-width="1"/>
<path d="M245.1,43.7 L247.4,47.7 L242.8,47.7 Z" fill="#F00000" stroke="#000" stroke-width="0.55"/>
<line x1="259.2" y1="41.3" x2="259.2" y2="51.4" stroke="#FF0000" stroke-width="1.2"/>
<line x1="256.5" y1="41.3" x2="261.9" y2="41.3" stroke="#FF0000" stroke-width="1"/>
<line x1="256.5" y1="51.4" x2="261.9" y2="51.4" stroke="#FF0000" stroke-width="1"/>
<path d="M259.2,43.7 L261.5,47.7 L256.9,47.7 Z" fill="#F00000" stroke="#000" stroke-width="0.55"/>
<g font-family="Liberation Sans, sans-serif" font-size="11.4" fill="#000" stroke="#000" stroke-width="0.15">
<text x="270.7" y="35.8" textLength="63.3" lengthAdjust="spacingAndGlyphs">"Metal-poor"</text>
<text x="270.7" y="50" textLength="59" lengthAdjust="spacingAndGlyphs">"Metal-rich"</text>
</g>
<g font-family="Liberation Sans, sans-serif" font-size="11.4" fill="#555555" stroke="#555555" stroke-width="0.1">
<text x="93.3" y="367.6" textLength="199" lengthAdjust="spacingAndGlyphs">Relative photometric parallax (mag)</text>
<text transform="translate(13.2,132.6) rotate(-90)" x="0" y="0"><tspan textLength="52.6" lengthAdjust="spacingAndGlyphs">Axis-ratio</tspan><tspan x="56.7" font-family="Liberation Serif, serif" font-style="italic" stroke-width="0" font-size="12" textLength="16" lengthAdjust="spacingAndGlyphs">a/b</tspan></text>
<text transform="translate(8.3,328) rotate(-90)" x="0" y="0" textLength="134.6" lengthAdjust="spacingAndGlyphs">Ellipse position angle (°)</text>
</g>
</svg>
</body></html>
